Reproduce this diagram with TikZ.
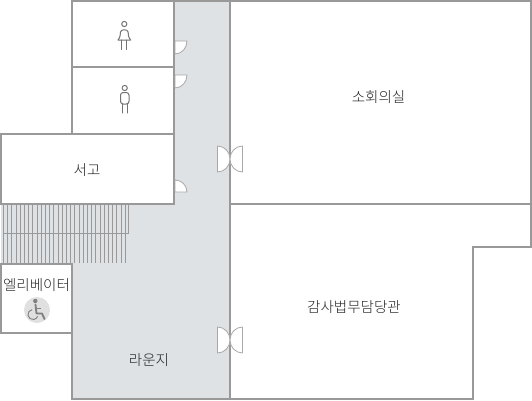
\documentclass[tikz,border=0pt]{standalone}
\usepackage{fontspec}
\setmainfont{Noto Sans CJK KR Light}
\definecolor{wallgray}{HTML}{999999}
\definecolor{floorgray}{HTML}{DFE2E5}
\definecolor{textgray}{HTML}{222222}
\tikzstyle{wall} = [draw=wallgray, line width=1.7pt, line join=miter]
\tikzstyle{thin} = [draw=wallgray, line width=0.6pt]
\tikzstyle{door} = [draw=wallgray!85, line width=0.6pt, fill=white]
\tikzstyle{icon} = [draw=black!55, line width=0.75pt, line cap=round, line join=round]
\tikzstyle{label} = [text=textgray, font=\fontsize{10.9pt}{12pt}\selectfont, inner sep=0pt]
\begin{document}
\begin{tikzpicture}[x=0.75pt,y=-0.75pt]
	\useasboundingbox (0,0) rectangle (532,400);

	% floor of the corridor and lounge
	\fill [floorgray] (174,1) -- (230,1) -- (230,399) -- (72,399) -- (72,264) -- (1,264) -- (1,204) -- (174,204) -- cycle;

	% stairs
	\foreach \n in {0,...,29} {
		\draw [thin] ({3.3+\n*4.2},205) -- ({3.3+\n*4.2},263);
	}
	\draw [thin] (3.3,233.5) -- (128.5,233.5) -- (128.5,205);

	% walls
	\draw [wall,fill=white] (72,1) rectangle (174,67);
	\draw [wall,fill=white] (72,67) rectangle (174,134);
	\draw [wall,fill=white] (1,134) rectangle (174,204);
	\draw [wall,fill=white] (1,264) rectangle (72,333);
	\draw [wall] (174,1) -- (531,1) -- (531,247) -- (473,247) -- (473,399) -- (72,399) -- (72,333);
	\draw [wall] (230,1) -- (230,399);
	\draw [wall] (230,204) -- (531,204);

	% doors of the small rooms
	\draw [door] (175,41) -- (187,41) arc (0:90:12 and 13) -- cycle;
	\draw [door] (175,75) -- (187,75) arc (0:90:12 and 13) -- cycle;
	\draw [door] (175,192) -- (187,192) arc (0:-90:12) -- cycle;

	% double doors on the long wall
	\foreach \cy in {159,340} {
		\draw [door] (217.5,\cy-13) arc (-90:0:12.5 and 13) arc (0:90:12.5 and 13) -- cycle;
		\draw [door] (242.5,\cy-13) arc (-90:-180:12.5 and 13) arc (180:90:12.5 and 13) -- cycle;
	}

	% woman
	\draw [icon] (124.3,24) circle (2.6);
	\draw [icon] (118,40) .. controls (120.5,37) and (120.3,34) .. (120.5,32) .. controls (120.7,29) and (127.9,29) .. (128.1,32) .. controls (128.3,34) and (128.1,37) .. (130.6,40) -- cycle;
	\draw [icon] (121.8,40) -- (121.8,49.5) (126.7,40) -- (126.7,49.5);

	% man
	\draw [icon] (124.7,88) circle (2.6);
	\draw [icon,rounded corners=2pt] (120.5,104) -- (120.5,92.5) -- (129,92.5) -- (129,104) -- cycle;
	\draw [icon] (122.5,104) -- (122.5,113) (127,104) -- (127,113);

	% wheelchair
	\fill [black!12] (37,310) circle (13);
	\fill [black!50] (35.3,301) circle (2.2);
	\draw [black!50,line width=1.4pt,line join=round,line cap=round] (35.5,304.5) -- (36.5,313.5) -- (42,313.5) -- (44.5,319);
	\draw [black!50,line width=0.6pt] (36,308) -- (41,308);
	\draw [black!50,line width=0.7pt] (32.1,309.6) arc (-100:-340:5);

	% labels
	\node [label] (room) at (378.5,97) {소회의실};
	\node [label] (storage) at (87,170) {서고};
	\node [label] (lift) at (36.5,285) {엘리베이터};
	\node [label] (audit) at (354,307) {감사법무담당관};
	\node [label] (lounge) at (149,360) {라운지};
\end{tikzpicture}
\end{document}
